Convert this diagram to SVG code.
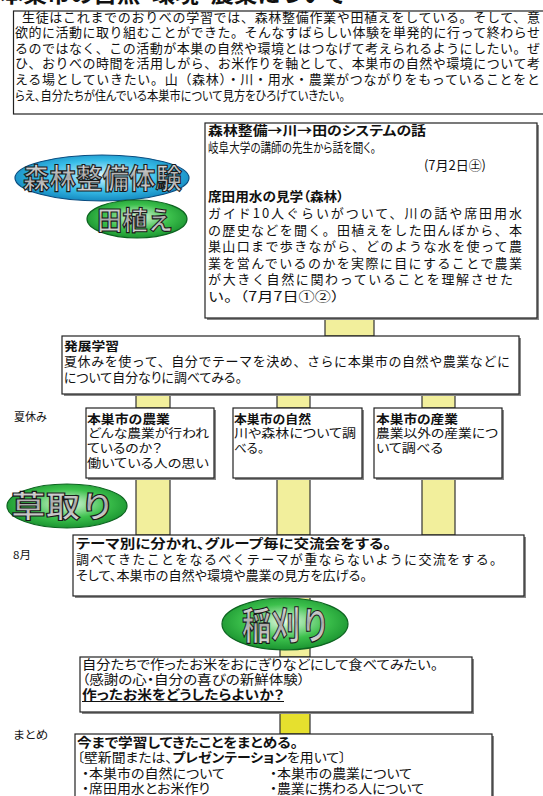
<svg xmlns="http://www.w3.org/2000/svg" width="543" height="796" viewBox="0 0 543 796">
<defs>
<style>
text{font-family:'Noto Sans CJK JP','Noto Sans CJK SC',sans-serif;fill:#111;font-size:12px;font-feature-settings:'palt'}
.j{font-feature-settings:normal}
.b{font-weight:bold}
.lbl{font-size:11px}
.box{fill:#fff;stroke:#222;stroke-width:1.2}
.sh{fill:#888}
.conn{fill:#f2ef9c;stroke:#333;stroke-width:1.2}
.conn2{fill:#e6e02e;stroke:#333;stroke-width:1.2}
.et{fill:url(#silver);stroke:#1a1a1a;stroke-width:1.1;font-weight:bold;font-feature-settings:normal}
</style>
<radialGradient id="blue" cx="0.5" cy="0.45" r="0.6">
<stop offset="0" stop-color="#d8f6ff"/>
<stop offset="0.55" stop-color="#38bde8"/>
<stop offset="1" stop-color="#0d7fb8"/>
</radialGradient>
<radialGradient id="green" cx="0.5" cy="0.45" r="0.6">
<stop offset="0" stop-color="#e6fbe6"/>
<stop offset="0.55" stop-color="#3cc04c"/>
<stop offset="1" stop-color="#138a2a"/>
</radialGradient>
<linearGradient id="silver" x1="0" y1="0" x2="0" y2="1">
<stop offset="0" stop-color="#ffffff"/>
<stop offset="0.5" stop-color="#a8a8a8"/>
<stop offset="1" stop-color="#e8e8e8"/>
</linearGradient>
</defs>

<text class="b" x="0" y="2" style="font-size:22px" textLength="345" lengthAdjust="spacingAndGlyphs">本巣市の自然・環境・農業について</text>

<g id="connectors">
<rect class="conn" x="325" y="318" width="49" height="18"/>
<rect class="conn" x="136" y="394" width="34" height="14"/>
<rect class="conn" x="277" y="394" width="33" height="14"/>
<rect class="conn" x="422" y="394" width="33" height="14"/>
<rect class="conn" x="136" y="478" width="34" height="57"/>
<rect class="conn" x="277" y="478" width="33" height="57"/>
<rect class="conn" x="422" y="478" width="33" height="57"/>
<rect class="conn" x="280" y="596" width="30" height="61"/>
<rect class="conn2" x="280" y="712" width="30" height="22"/>
</g>

<g id="intro">
<rect class="box" x="13.5" y="11" width="540" height="103"/>
<text class="j" x="22" y="21.5" style="font-size:13px" textLength="518" lengthAdjust="spacing">生徒はこれまでのおりべの学習では、森林整備作業や田植えをしている。そして、意</text>
<text class="j" x="15" y="37" style="font-size:13px" textLength="525" lengthAdjust="spacing">欲的に活動に取り組むことができた。そんなすばらしい体験を単発的に行って終わらせ</text>
<text class="j" x="15" y="52.7" style="font-size:13px" textLength="525" lengthAdjust="spacing">るのではなく、この活動が本巣の自然や環境とはつなげて考えられるようにしたい。ぜ</text>
<text class="j" x="15" y="68.3" style="font-size:13px" textLength="525" lengthAdjust="spacing">ひ、おりべの時間を活用しがら、お米作りを軸として、本巣市の自然や環境について考</text>
<text class="j" x="15" y="84" style="font-size:13px" textLength="525" lengthAdjust="spacing">える場としていきたい。山（森林）・川・用水・農業がつながりをもっていることをと</text>
<text x="15" y="99.5" style="font-size:13px" textLength="330" lengthAdjust="spacingAndGlyphs">らえ、自分たちが住んでいる本巣市について見方をひろげていきたい。</text>
</g>

<g id="shinrin">
<ellipse cx="102" cy="178" rx="87" ry="23" fill="url(#blue)" stroke="#0a4d80" stroke-width="1.2"/>
<text class="et" x="23" y="189" style="font-size:28px" textLength="159" lengthAdjust="spacingAndGlyphs">森林整備体験</text>
</g>

<g id="taue">
<ellipse cx="137" cy="219" rx="50" ry="19" fill="url(#green)" stroke="#0d6420" stroke-width="1.2"/>
<text class="et" x="97" y="230" style="font-size:26px" textLength="76" lengthAdjust="spacingAndGlyphs">田植え</text>
</g>

<g id="box-lecture">
<rect class="sh" x="207" y="125" width="332" height="195"/>
<rect class="box" x="205" y="123" width="332" height="195"/>
<text class="b" x="208" y="135" style="font-size:13px" textLength="218" lengthAdjust="spacingAndGlyphs">森林整備→川→田のシステムの話</text>
<text x="208" y="151.5" style="font-size:13px" textLength="168" lengthAdjust="spacingAndGlyphs">岐阜大学の講師の先生から話を聞く。</text>
<text x="424" y="170" style="font-size:13px" textLength="62" lengthAdjust="spacing">(7月2日㊏)</text>
<text class="b" x="208" y="201" style="font-size:13px" textLength="136" lengthAdjust="spacingAndGlyphs">席田用水の見学（森林）</text>
<text class="j" x="208" y="218" style="font-size:13px" textLength="314" lengthAdjust="spacing">ガイド10人ぐらいがついて、川の話や席田用水</text>
<text class="j" x="208" y="234.5" style="font-size:13px" textLength="314" lengthAdjust="spacing">の歴史などを聞く。田植えをした田んぼから、本</text>
<text class="j" x="208" y="251" style="font-size:13px" textLength="314" lengthAdjust="spacing">巣山口まで歩きながら、どのような水を使って農</text>
<text class="j" x="208" y="267.5" style="font-size:13px" textLength="314" lengthAdjust="spacing">業を営んでいるのかを実際に目にすることで農業</text>
<text class="j" x="208" y="284" style="font-size:13px" textLength="305" lengthAdjust="spacing">が大きく自然に関わっていることを理解させた</text>
<text class="j" x="208" y="300.5" style="font-size:13px" textLength="139" lengthAdjust="spacingAndGlyphs">い。（7月7日①②）</text>
</g>

<g id="box-hatten">
<rect class="sh" x="64" y="338" width="457" height="58"/>
<rect class="box" x="62" y="336" width="457" height="58"/>
<text class="b" x="64" y="351" style="font-size:12.5px" textLength="55" lengthAdjust="spacingAndGlyphs">発展学習</text>
<text class="j" x="64" y="366" style="font-size:13px" textLength="446" lengthAdjust="spacing">夏休みを使って、自分でテーマを決め、さらに本巣市の自然や農業などに</text>
<text x="64" y="382" style="font-size:13px" textLength="178" lengthAdjust="spacingAndGlyphs">について自分なりに調べてみる。</text>
</g>

<g id="label-natsu"><text class="lbl" x="14" y="421" textLength="33" lengthAdjust="spacingAndGlyphs">夏休み</text></g>

<g id="box-nogyo">
<rect class="sh" x="88" y="410" width="128" height="70"/>
<rect class="box" x="86" y="408" width="128" height="70"/>
<text class="b" x="87" y="423.5" textLength="83" lengthAdjust="spacingAndGlyphs">本巣市の農業</text>
<text x="88" y="438" textLength="121" lengthAdjust="spacingAndGlyphs">どんな農業が行われ</text>
<text x="87" y="453" textLength="75" lengthAdjust="spacingAndGlyphs">ているのか？</text>
<text x="87" y="468" textLength="122" lengthAdjust="spacingAndGlyphs">働いている人の思い</text>
</g>

<g id="box-shizen">
<rect class="sh" x="235" y="410" width="129" height="70"/>
<rect class="box" x="233" y="408" width="129" height="70"/>
<text class="b" x="234" y="423.5" textLength="77" lengthAdjust="spacingAndGlyphs">本巣市の自然</text>
<text x="234" y="438" textLength="122" lengthAdjust="spacingAndGlyphs">川や森林について調</text>
<text x="234" y="453" textLength="30" lengthAdjust="spacingAndGlyphs">べる。</text>
</g>

<g id="box-sangyo">
<rect class="sh" x="376" y="410" width="128" height="70"/>
<rect class="box" x="374" y="408" width="128" height="70"/>
<text class="b" x="376" y="423.5" textLength="82" lengthAdjust="spacingAndGlyphs">本巣市の産業</text>
<text x="376" y="438" textLength="122" lengthAdjust="spacingAndGlyphs">農業以外の産業につ</text>
<text x="376" y="453" textLength="67" lengthAdjust="spacingAndGlyphs">いて調べる</text>
</g>

<g id="kusatori">
<ellipse cx="67" cy="506" rx="60" ry="22" fill="url(#green)" stroke="#0d6420" stroke-width="1.2"/>
<text class="et" x="11" y="517" style="font-size:30px" textLength="104" lengthAdjust="spacingAndGlyphs">草取り</text>
</g>

<g id="label-8"><text class="lbl" x="13" y="559" textLength="18" lengthAdjust="spacingAndGlyphs">8月</text></g>

<g id="box-koryu">
<rect class="sh" x="75" y="537" width="451" height="61"/>
<rect class="box" x="73" y="535" width="451" height="61"/>
<text class="b" x="76" y="548" style="font-size:13px" textLength="315" lengthAdjust="spacingAndGlyphs">テーマ別に分かれ、グループ毎に交流会をする。</text>
<text class="j" x="76" y="564" style="font-size:13px" textLength="427" lengthAdjust="spacing">調べてきたことをなるべくテーマが重ならないように交流をする。</text>
<text x="76" y="580" style="font-size:13px" textLength="291" lengthAdjust="spacingAndGlyphs">そして、本巣市の自然や環境や農業の見方を広げる。</text>
</g>

<g id="inekari">
<ellipse cx="285" cy="624" rx="63" ry="26" fill="url(#green)" stroke="#0d6420" stroke-width="1.2"/>
<text class="et" x="242" y="639" style="font-size:38px" textLength="88" lengthAdjust="spacingAndGlyphs">稲刈り</text>
</g>

<g id="box-onigiri">
<rect class="sh" x="82" y="659" width="392" height="55"/>
<rect class="box" x="80" y="657" width="392" height="55"/>
<text x="82" y="669" style="font-size:13px" textLength="356" lengthAdjust="spacingAndGlyphs">自分たちで作ったお米をおにぎりなどにして食べてみたい。</text>
<text x="82" y="684" style="font-size:13px" textLength="223" lengthAdjust="spacingAndGlyphs">（感謝の心・自分の喜びの新鮮体験）</text>
<text class="b" x="82" y="699" style="font-size:13px" textLength="202" lengthAdjust="spacingAndGlyphs">作ったお米をどうしたらよいか？</text>
<line x1="82" y1="701.5" x2="284" y2="701.5" stroke="#111" stroke-width="1"/>
</g>

<g id="label-matome"><text class="lbl" x="13" y="739" textLength="35" lengthAdjust="spacingAndGlyphs">まとめ</text></g>

<g id="box-matome">
<rect class="sh" x="77" y="736" width="417" height="70"/>
<rect class="box" x="75" y="734" width="417" height="70"/>
<text class="b" x="77" y="747" style="font-size:13px" textLength="221" lengthAdjust="spacingAndGlyphs">今まで学習してきたことをまとめる。</text>
<text x="77" y="762" style="font-size:13px" textLength="269" lengthAdjust="spacingAndGlyphs">〔壁新聞または、<tspan class="b">プレゼンテーション</tspan>を用いて〕</text>
<text x="82" y="778" style="font-size:13px" textLength="143" lengthAdjust="spacingAndGlyphs">・本巣市の自然について</text>
<text x="270" y="778" style="font-size:13px" textLength="142" lengthAdjust="spacingAndGlyphs">・本巣市の農業について</text>
<text x="82" y="792.5" style="font-size:13px" textLength="128" lengthAdjust="spacingAndGlyphs">・席田用水とお米作り</text>
<text x="270" y="792.5" style="font-size:13px" textLength="154" lengthAdjust="spacingAndGlyphs">・農業に携わる人について</text>
</g>
</svg>
